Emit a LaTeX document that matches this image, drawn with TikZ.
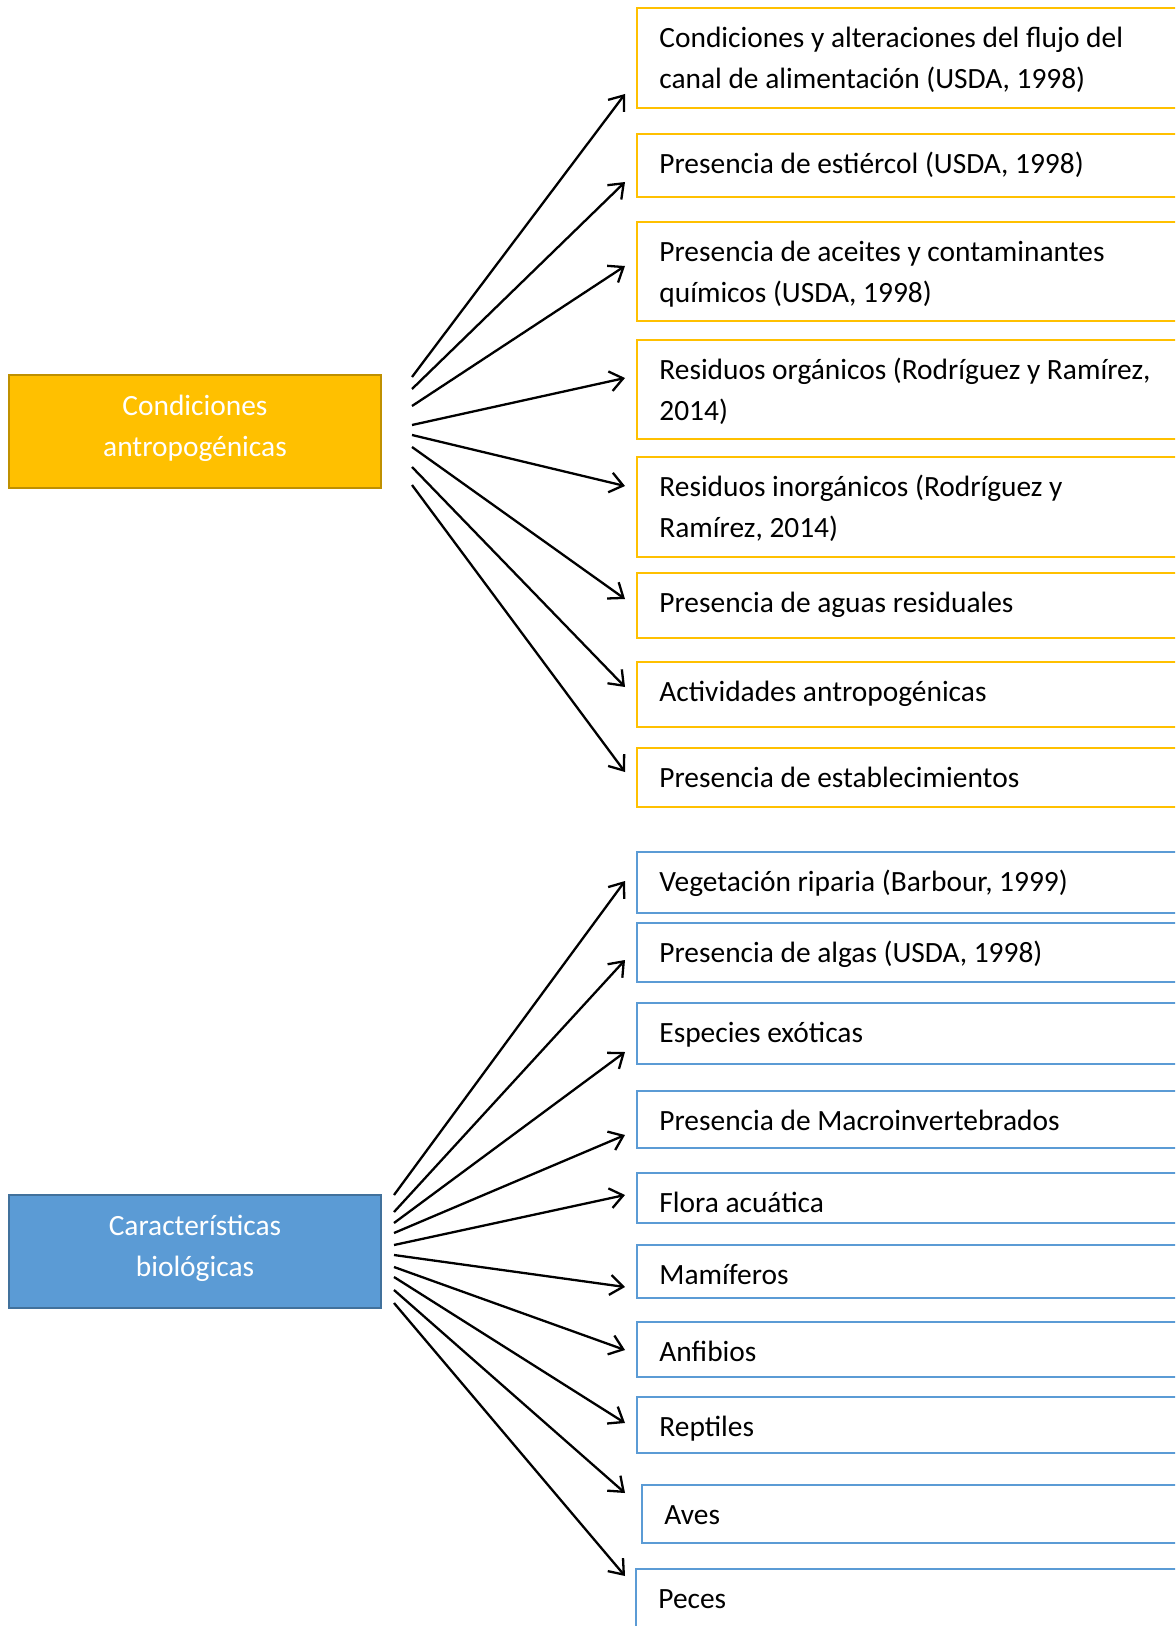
\documentclass[tikz,border=0pt]{standalone}
\usepackage{fontspec}
\setmainfont{Carlito}
\usetikzlibrary{arrows.meta,calc}
\definecolor{gold}{HTML}{FFC000}
\definecolor{golddark}{HTML}{BF9000}
\definecolor{sky}{HTML}{5B9BD5}
\definecolor{skydark}{HTML}{41719C}
\newcommand{\mkbox}[6]{%
  \node[rbox, draw=#5, minimum width={(1200-#2)*0.5pt}, minimum height={(#4-#3)*0.5pt}] (#1) at (#2,#3) {};
  \node[rtext] (#1t) at ($(#1.north west)+(22,7)$) {\rule{0pt}{16pt}#6};
}
\begin{document}
\begin{tikzpicture}[x=0.5pt,y=-0.5pt,
  txt/.style={font=\fontsize{14.7pt}{20.6pt}\selectfont},
  rbox/.style={line width=1.2pt, anchor=north west, inner sep=0pt, outer sep=0pt},
  rtext/.style={txt, anchor=north west, inner sep=0pt, align=left, text=black},
  lbox/.style={txt, line width=1pt, text=white, align=center, inner sep=0pt,
    minimum width=186pt, minimum height=56.5pt},
  arr/.style={-{Straight Barb[length=6.5pt,width=10pt]}, line width=1.15pt, black}]
\useasboundingbox (0,0) rectangle (1175,1626);
\clip (0,0) rectangle (1175,1626);

% source boxes
\node[lbox, fill=gold, draw=golddark] (cond) at (195,431.5) {};
\node[txt, text=white, align=center, inner sep=0pt] (condt) at (195,428.5) {Condiciones\\antropogénicas};
\node[lbox, fill=sky, draw=skydark] (bio) at (195,1251.5) {};
\node[txt, text=white, align=center, inner sep=0pt] (biot) at (195,1248.5) {Características\\biológicas};

% orange targets
\mkbox{a1}{637}{8}{108}{gold}{Condiciones y alteraciones del flujo del\\canal de alimentación (USDA, 1998)}
\mkbox{a2}{637}{134}{197}{gold}{Presencia de estiércol (USDA, 1998)}
\mkbox{a3}{637}{222}{321}{gold}{Presencia de aceites y contaminantes\\químicos (USDA, 1998)}
\mkbox{a4}{637}{340}{439}{gold}{Residuos orgánicos (Rodríguez y Ramírez,\\2014)}
\mkbox{a5}{637}{457}{557}{gold}{Residuos inorgánicos (Rodríguez y\\Ramírez, 2014)}
\mkbox{a6}{637}{573}{638}{gold}{Presencia de aguas residuales}
\mkbox{a7}{637}{662}{727}{gold}{Actividades antropogénicas}
\mkbox{a8}{637}{748}{807}{gold}{Presencia de establecimientos}

% blue targets
\mkbox{c1}{637}{852}{913}{sky}{Vegetación riparia (Barbour, 1999)}
\mkbox{c2}{637}{923}{982}{sky}{Presencia de algas (USDA, 1998)}
\mkbox{c3}{637}{1003}{1064}{sky}{Especies exóticas}
\mkbox{c4}{637}{1091}{1148}{sky}{Presencia de Macroinvertebrados}
\mkbox{c5}{637}{1173}{1223}{sky}{Flora acuática}
\mkbox{c6}{637}{1245}{1298}{sky}{Mamíferos}
\mkbox{c7}{637}{1322}{1377}{sky}{Anfibios}
\mkbox{c8}{637}{1397}{1453}{sky}{Reptiles}
\mkbox{c9}{642}{1485}{1543}{sky}{Aves}
\mkbox{c10}{636}{1569}{1640}{sky}{Peces}

% orange arrows
\foreach \i/\ys/\ye in {1/377/94, 2/389/182, 3/406/266, 4/425/378, 5/435/486, 6/447/599, 7/467/687, 8/485/772}{
  \coordinate (sa\i) at (412,\ys);
  \coordinate (ea\i) at (625,\ye);
  \draw[arr] (sa\i) -- (ea\i);
}
% blue arrows
\foreach \i/\ys/\ye in {1/1195/881, 2/1212/960, 3/1223/1052, 4/1233/1135, 5/1245/1195, 6/1255/1287, 7/1267/1350, 8/1277/1423, 9/1290/1493, 10/1303/1576}{
  \coordinate (sc\i) at (394,\ys);
  \coordinate (ec\i) at (625,\ye);
  \draw[arr] (sc\i) -- (ec\i);
}
\end{tikzpicture}
\end{document}
